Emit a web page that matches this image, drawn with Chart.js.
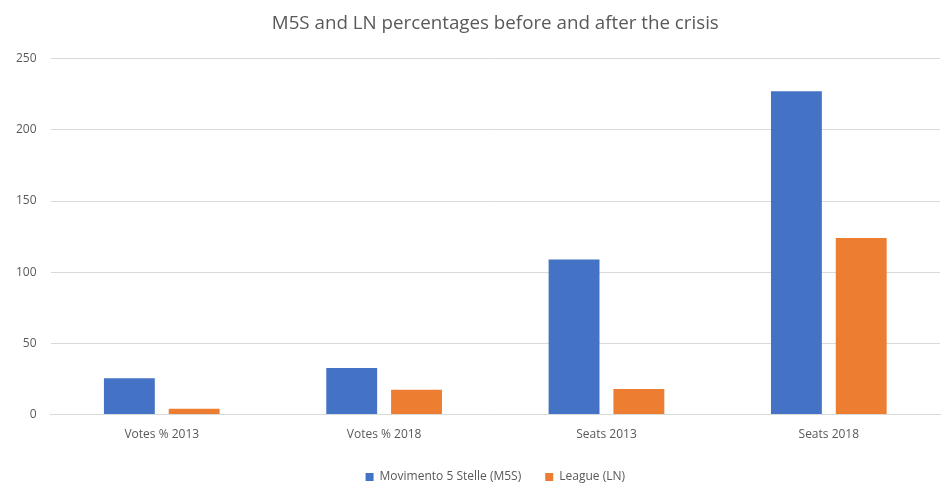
<!DOCTYPE html>
<html>
<head>
<meta charset="utf-8">
<script src="https://cdn.jsdelivr.net/npm/chart.js@4.4.1/dist/chart.umd.min.js"></script>
<style>
  html, body { margin: 0; padding: 0; background: #fff; }
  #wrap { width: 945px; height: 486px; }
</style>
</head>
<body>
<div id="wrap"><canvas id="myChart" width="945" height="486"></canvas></div>
<script>
const categories = ['Votes % 2013', 'Votes % 2018', 'Seats 2013', 'Seats 2018'];
const m5sValues = [25.6, 32.7, 109, 227];
const lnValues = [4.1, 17.4, 18, 124];
const yTicks = [0, 50, 100, 150, 200, 250];

const fontFamily = "'Open Sans', 'Liberation Sans', sans-serif";
const textColor = '#595959';

// title and legend sit centred over the plot area, not the whole canvas
const centerOnPlot = {
    id: 'centerOnPlot',
    afterLayout(chart) {
        const area = chart.chartArea;
        [chart.titleBlock, chart.legend].forEach(box => {
            if (!box) return;
            const w = box.right - box.left;
            const shift = (area.left + area.right) / 2 - (box.left + w / 2);
            box.left += shift;
            box.right += shift;
        });
    }
};

const ctx = document.getElementById('myChart').getContext('2d');
const myChart = new Chart(ctx, {
    type: 'bar',
    data: {
        labels: categories,
        datasets: [{
            label: 'Movimento 5 Stelle (M5S)',
            data: m5sValues,
            backgroundColor: '#4472c4',
            categoryPercentage: 0.583,
            barPercentage: 0.785
        },
        {
            label: 'League (LN)',
            data: lnValues,
            backgroundColor: '#ed7d31',
            categoryPercentage: 0.583,
            barPercentage: 0.785
        }]
    },
    options: {
        responsive: false,
        animation: false,
        layout: {
            padding: { left: 2, right: 5, top: 8, bottom: -7 }
        },
        plugins: {
            title: {
                display: true,
                text: 'M5S and LN percentages before and after the crisis',
                color: textColor,
                font: { family: fontFamily, size: 18.75, weight: 'normal' },
                padding: { top: 4.5, bottom: 23.6 }
            },
            legend: {
                position: 'bottom',
                labels: {
                    color: textColor,
                    font: { family: fontFamily, size: 12 },
                    boxWidth: 8,
                    boxHeight: 8,
                    padding: 24
                }
            },
            tooltip: { enabled: false }
        },
        scales: {
            x: {
                grid: { display: false },
                border: { color: '#d9d9d9' },
                ticks: {
                    color: textColor,
                    font: { family: fontFamily, size: 12 },
                    padding: 5
                }
            },
            y: {
                min: 0,
                max: 250,
                afterBuildTicks: (axis) => {
                    axis.ticks = yTicks.map(v => ({ value: v }));
                },
                grid: { color: '#d9d9d9', drawTicks: false },
                border: { display: false },
                ticks: {
                    color: textColor,
                    font: { family: fontFamily, size: 12 },
                    padding: 14
                }
            }
        }
    },
    plugins: [centerOnPlot]
});
</script>
</body>
</html>
